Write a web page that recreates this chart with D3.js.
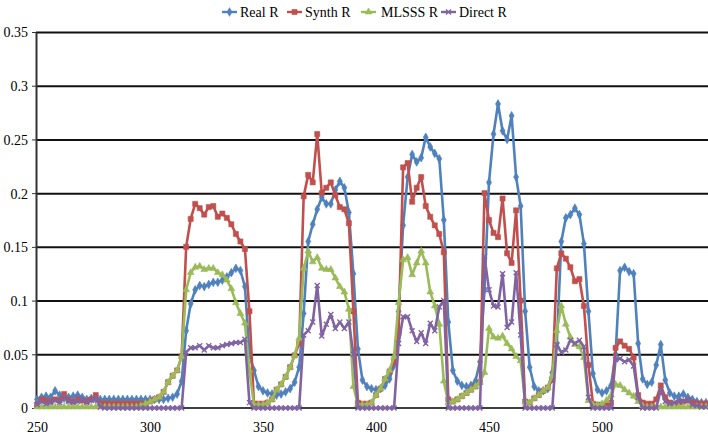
<!DOCTYPE html>
<html><head><meta charset="utf-8">
<script src="https://cdn.jsdelivr.net/npm/d3@7"></script>
<style>
body{margin:0;background:#fff}
svg{display:block;font-family:"Liberation Serif","DejaVu Serif",serif}
svg text{font-family:"Liberation Serif","DejaVu Serif",serif !important;font-size:14px;fill:#000}
</style>
</head><body>
<svg id="c" width="708" height="438"></svg>
<script>
// ---------- data ----------
const wavelengths = d3.range(250, 547, 2); // categories 250,252,...,546
const xTicks = [250, 300, 350, 400, 450, 500];
const yTicks = [0, 0.05, 0.1, 0.15, 0.2, 0.25, 0.3, 0.35];
const yTickLabels = ["0", "0.05", "0.1", "0.15", "0.2", "0.25", "0.3", "0.35"];
const seriesNames = ["Real R", "Synth R", "MLSSS R", "Direct R"];

const realR = [
0.008,0.010,0.011,0.010,0.016,0.012,0.009,0.010,0.011,0.012,
0.010,0.008,0.009,0.008,0.008,0.008,0.008,0.008,0.008,0.008,
0.008,0.008,0.008,0.008,0.008,0.008,0.008,0.008,0.008,0.009,
0.010,0.013,0.025,0.072,0.097,0.110,0.114,0.113,0.115,0.117,
0.117,0.119,0.122,0.126,0.130,0.128,0.113,0.050,0.035,0.020,
0.016,0.014,0.013,0.012,0.013,0.015,0.018,0.024,0.038,0.088,
0.155,0.171,0.185,0.196,0.190,0.190,0.203,0.211,0.205,0.182,
0.125,0.055,0.026,0.020,0.018,0.017,0.018,0.021,0.027,0.040,
0.090,0.170,0.215,0.236,0.229,0.233,0.252,0.243,0.237,0.232,
0.175,0.080,0.035,0.025,0.021,0.020,0.021,0.025,0.043,0.110,
0.210,0.255,0.283,0.258,0.250,0.272,0.215,0.188,0.090,0.038,
0.020,0.016,0.016,0.018,0.033,0.060,0.155,0.177,0.180,0.186,
0.180,0.153,0.090,0.032,0.017,0.014,0.016,0.021,0.050,0.128,
0.131,0.127,0.125,0.060,0.027,0.022,0.024,0.040,0.059,0.026,
0.014,0.011,0.011,0.013,0.010,0.008,0.006,0.005,0.005];

const synthR = [
0.003,0.008,0.007,0.006,0.008,0.007,0.013,0.007,0.006,0.008,
0.007,0.006,0.008,0.012,0.004,0.004,0.004,0.004,0.004,0.004,
0.004,0.004,0.004,0.004,0.004,0.006,0.008,0.010,0.015,0.024,
0.030,0.035,0.048,0.150,0.176,0.190,0.186,0.180,0.187,0.188,
0.178,0.181,0.177,0.171,0.162,0.155,0.148,0.090,0.004,0.004,
0.004,0.005,0.008,0.017,0.022,0.029,0.038,0.049,0.060,0.197,
0.217,0.210,0.255,0.200,0.205,0.210,0.198,0.187,0.185,0.172,
0.090,0.005,0.004,0.004,0.005,0.012,0.018,0.027,0.034,0.043,
0.070,0.224,0.228,0.192,0.205,0.215,0.188,0.178,0.170,0.162,
0.145,0.008,0.006,0.008,0.011,0.014,0.017,0.020,0.024,0.200,
0.175,0.163,0.159,0.195,0.144,0.135,0.184,0.100,0.006,0.005,
0.009,0.012,0.016,0.019,0.026,0.130,0.144,0.139,0.131,0.118,
0.120,0.095,0.040,0.004,0.003,0.003,0.004,0.005,0.056,0.062,
0.058,0.055,0.047,0.012,0.005,0.004,0.004,0.008,0.021,0.010,
0.005,0.004,0.005,0.006,0.007,0.005,0.004,0.004,0.004];

const mlsssR = [
0.001,0.001,0.001,0.001,0.001,0.001,0.001,0.001,0.001,0.001,
0.001,0.001,0.001,0.001,0.001,0.001,0.001,0.001,0.001,0.001,
0.001,0.001,0.001,0.002,0.004,0.006,0.008,0.010,0.015,0.024,
0.030,0.035,0.048,0.110,0.126,0.131,0.132,0.129,0.130,0.130,
0.126,0.124,0.119,0.111,0.098,0.088,0.079,0.035,0.003,0.003,
0.003,0.005,0.008,0.017,0.022,0.029,0.038,0.049,0.065,0.130,
0.146,0.136,0.140,0.130,0.129,0.129,0.121,0.113,0.108,0.092,
0.020,0.003,0.003,0.003,0.005,0.012,0.018,0.027,0.035,0.048,
0.098,0.138,0.140,0.124,0.135,0.146,0.135,0.108,0.095,0.078,
0.025,0.005,0.006,0.008,0.011,0.014,0.017,0.020,0.024,0.033,
0.074,0.066,0.065,0.067,0.060,0.055,0.048,0.044,0.006,0.005,
0.009,0.012,0.016,0.019,0.030,0.072,0.095,0.078,0.066,0.059,
0.057,0.047,0.007,0.003,0.003,0.004,0.007,0.012,0.022,0.021,
0.017,0.014,0.011,0.006,0.002,0.001,0.001,0.001,0.001,0.001,
0.001,0.001,0.001,0.001,0.001,0.001,0.001,0.001,0.001];

const directR = [
0.003,0.006,0.004,0.005,0.007,0.005,0.010,0.006,0.005,0.006,
0.008,0.005,0.007,0.010,0.001,0,0,0,0,0,
0,0,0,0,0,0,0,0,0,0,
0,0,0,0.052,0.056,0.056,0.058,0.054,0.058,0.056,
0.056,0.058,0.059,0.060,0.061,0.061,0.064,0.005,0,0,
0,0,0,0,0,0,0,0,0,0.068,
0.072,0.080,0.114,0.067,0.078,0.087,0.074,0.080,0.074,0.080,
0.050,0,0,0,0,0,0,0,0,0,
0.060,0.085,0.085,0.072,0.062,0.070,0.060,0.079,0.072,0.094,
0.100,0,0,0,0,0,0,0,0,0.141,
0.110,0.095,0.094,0.125,0.075,0.080,0.126,0.068,0,0,
0,0,0,0,0,0.059,0.052,0.054,0.063,0.060,
0.063,0.057,0.010,0,0,0,0,0,0.045,0.046,
0.043,0.045,0.039,0.010,0,0,0,0,0.017,0.006,
0.004,0.005,0.007,0.006,0.008,0.003,0.002,0.001,0.001];

// ---------- chart ----------
const colors = ["#4F81BD", "#C0504D", "#9BBB59", "#8064A2"];
const markers = ["diamond", "square", "triangle", "x"];
const allSeries = [realR, synthR, mlsssR, directR];
const FONT = "Liberation Serif, DejaVu Serif, serif";

const W = 708, H = 438;
const plotLeft = 36, plotTop = 32, plotBottom = 408;
const svg = d3.select("#c");

const x = d3.scaleLinear().domain([250, 550]).range([37, 715]);
const y = d3.scaleLinear().domain([0, 0.35]).range([plotBottom, plotTop]);

// gridlines
const grid = svg.append("g").attr("transform", `translate(${plotLeft},0)`)
  .call(d3.axisLeft(y).tickValues(yTicks.filter(v => v > 0)).tickSize(-(W - plotLeft)).tickFormat(""));
grid.select(".domain").remove();
grid.selectAll("line").attr("stroke", "#111").attr("stroke-width", 2);

// y axis
const ya = svg.append("g").attr("transform", `translate(${plotLeft},0)`)
  .call(d3.axisLeft(y).tickValues(yTicks).tickFormat((d, i) => yTickLabels[i]).tickSize(4).tickSizeOuter(0).tickPadding(4));
ya.attr("font-family", FONT).attr("font-size", 14);
ya.select(".domain").attr("stroke", "#333").attr("stroke-width", 2);
ya.selectAll("line").attr("stroke", "#333").attr("stroke-width", 1);
ya.selectAll("text").attr("font-family", FONT).attr("fill", "#000").attr("dy", "0.35em");

// x axis
const xa = svg.append("g").attr("transform", `translate(0,${plotBottom})`)
  .call(d3.axisBottom(x).tickValues(xTicks).tickSize(0).tickPadding(0).tickFormat(d3.format("d")));
xa.attr("font-family", FONT).attr("font-size", 14);
xa.select(".domain").remove();
xa.selectAll("text").attr("font-family", FONT).attr("fill", "#000").attr("y", 24).attr("dy", 0);
svg.append("line").attr("x1", plotLeft).attr("x2", W).attr("y1", plotBottom).attr("y2", plotBottom)
  .attr("stroke", "#404040").attr("stroke-width", 2);

function markerPath(kind) {
  if (kind === "diamond") return d3.symbol(d3.symbolDiamond, 22)();
  if (kind === "square") return d3.symbol(d3.symbolSquare, 26)();
  if (kind === "triangle") return d3.symbol(d3.symbolTriangle, 20)();
  return "M-2.5,-2.5L2.5,2.5M-2.5,2.5L2.5,-2.5";
}

const line = d3.line().x((d, i) => x(wavelengths[i])).y(d => y(d));

allSeries.forEach((vals, si) => {
  const g = svg.append("g");
  g.append("path").attr("d", line(vals)).attr("fill", "none")
    .attr("stroke", colors[si]).attr("stroke-width", 2.6).attr("stroke-linejoin", "round");
  g.selectAll("path.m").data(vals).join("path").attr("class", "m")
    .attr("transform", (d, i) => `translate(${x(wavelengths[i])},${y(d)})`)
    .attr("d", markerPath(markers[si]))
    .attr("fill", markers[si] === "x" ? "none" : colors[si])
    .attr("stroke", colors[si]).attr("stroke-width", markers[si] === "x" ? 1.4 : 0.6);
});

// legend
const legendX = [222, 287, 361, 441];
const legendTextX = [240, 305, 381, 459];
const ly = 12;
seriesNames.forEach((name, i) => {
  const g = svg.append("g");
  g.append("line").attr("x1", legendX[i]).attr("x2", legendX[i] + 15).attr("y1", ly).attr("y2", ly)
    .attr("stroke", colors[i]).attr("stroke-width", 2.4);
  g.append("path").attr("transform", `translate(${legendX[i] + 7.5},${ly})`).attr("d", markerPath(markers[i]))
    .attr("fill", markers[i] === "x" ? "none" : colors[i]).attr("stroke", colors[i])
    .attr("stroke-width", markers[i] === "x" ? 1.4 : 0.6);
  g.append("text").attr("x", legendTextX[i]).attr("y", ly).attr("dy", "0.35em")
    .attr("font-family", FONT).attr("font-size", 14).text(name);
});
</script>
</body></html>
